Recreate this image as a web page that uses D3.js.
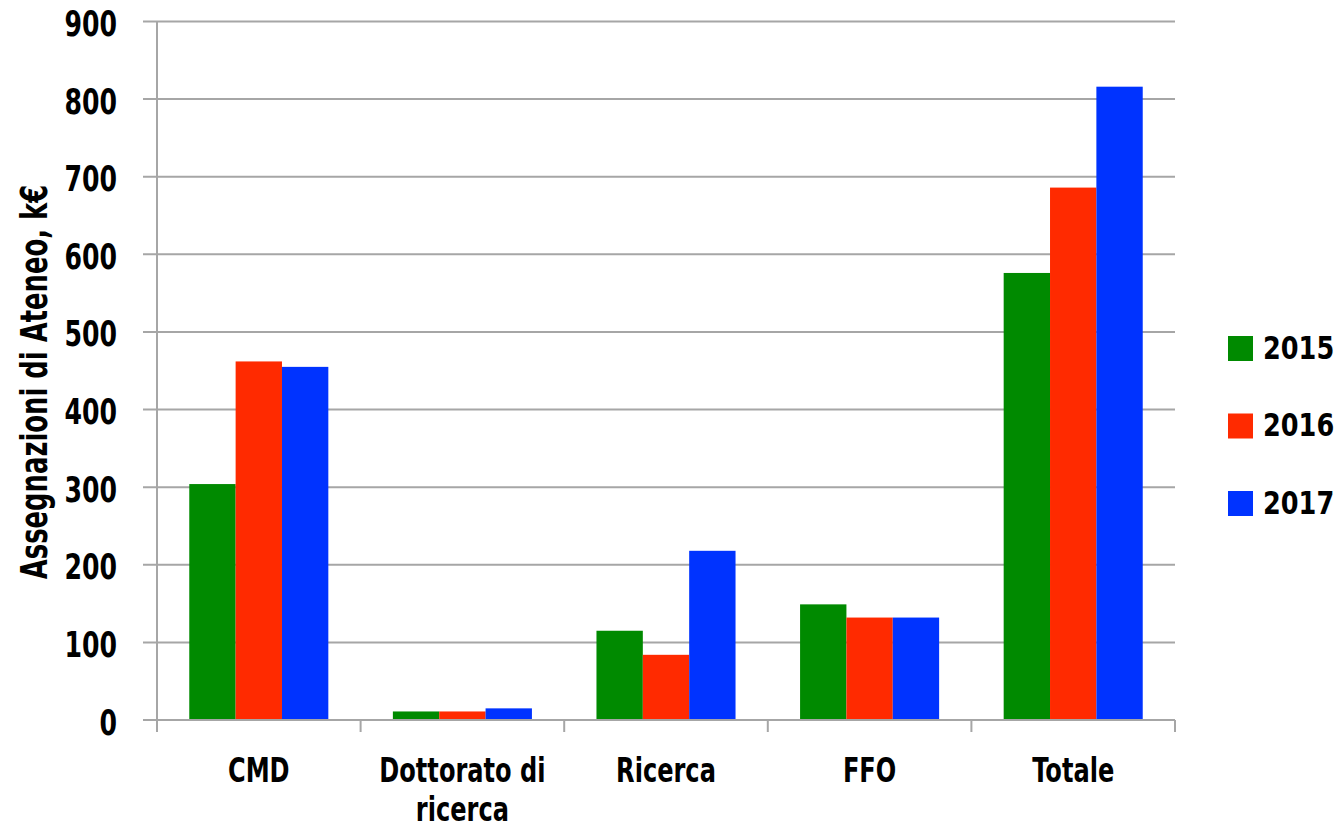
<!DOCTYPE html>
<html>
<head>
<meta charset="utf-8">
<script src="https://cdn.jsdelivr.net/npm/d3@7"></script>
<style>
  body { margin: 0; background: #fff; }
  text { font-family: "DejaVu Sans", sans-serif; font-weight: bold; fill: #000; }
</style>
</head>
<body>
<div id="viz"></div>
<script>
// data
let categories = ["CMD", "Dottorato di ricerca", "Ricerca", "FFO", "Totale"]
let catLines = [["CMD"], ["Dottorato di", "ricerca"], ["Ricerca"], ["FFO"], ["Totale"]]
let years = ["2015", "2016", "2017"]
let values2015 = [304, 11, 115, 149, 576]
let values2016 = [462, 11, 84, 132, 686]
let values2017 = [455, 15, 218, 132, 816]
let yTicks = [0, 100, 200, 300, 400, 500, 600, 700, 800, 900]
let colors = ["#008a00", "#ff2a00", "#0033ff"]

let series = [values2015, values2016, values2017]

let width = 1341
let height = 830
let plotLeft = 157, plotRight = 1175, plotTop = 21.5, plotBottom = 720

let svg = d3.select('#viz').append('svg').attr("width", width).attr("height", height)

let y = d3.scaleLinear().domain([0, 900]).range([plotBottom, plotTop])
let x0 = d3.scaleBand().domain(categories).range([plotLeft, plotRight]).paddingInner(0.317).paddingOuter(0.1585)
let x1 = d3.scaleBand().domain(years).range([0, x0.bandwidth()])

//gridlines + y labels
svg.append("g").selectAll("line").data(yTicks).join("line")
  .attr("x1", 143).attr("x2", plotRight)
  .attr("y1", d => y(d)).attr("y2", d => y(d))
  .attr("stroke", "#a6a6a6").attr("stroke-width", 2)

svg.append("g").selectAll("text").data(yTicks).join("text")
  .text(d => d)
  .attr("transform", d => `translate(117,${y(d) + 14.5}) scale(0.7,1)`)
  .attr("text-anchor", "end")
  .attr("font-size", 36)

//y axis line
svg.append("line").attr("x1", plotLeft).attr("x2", plotLeft).attr("y1", plotTop).attr("y2", plotBottom + 12)
  .attr("stroke", "#a6a6a6").attr("stroke-width", 2)

//bars
let groups = svg.append("g").selectAll("g").data(categories).join("g")
  .attr("transform", d => `translate(${x0(d)},0)`)

groups.selectAll("rect").data((d, i) => years.map((yr, k) => ({yr: yr, v: series[k][i], k: k})))
  .join("rect")
  .attr("x", d => x1(d.yr)).attr("width", x1.bandwidth())
  .attr("y", d => y(d.v)).attr("height", d => plotBottom - y(d.v))
  .attr("fill", d => colors[d.k])

//x axis
svg.append("line").attr("x1", plotLeft).attr("x2", plotRight).attr("y1", plotBottom).attr("y2", plotBottom)
  .attr("stroke", "#a6a6a6").attr("stroke-width", 2)

let step = x0.step()
let bounds = d3.range(categories.length + 1).map(i => plotLeft + i * step)
svg.append("g").selectAll("line").data(bounds).join("line")
  .attr("x1", d => d).attr("x2", d => d).attr("y1", plotBottom).attr("y2", plotBottom + 12)
  .attr("stroke", "#a6a6a6").attr("stroke-width", 2)

catLines.forEach((lines, i) => {
  let cx = x0(categories[i]) + x0.bandwidth() / 2
  lines.forEach((ln, j) => {
    svg.append("text").text(ln)
      .attr("transform", `translate(${cx},${782 + j * 39}) scale(0.73,1)`)
      .attr("text-anchor", "middle").attr("font-size", 33)
  })
})

//y title
svg.append("text").text("Assegnazioni di Ateneo, k€")
  .attr("transform", `translate(47,382) rotate(-90) scale(0.68,1)`)
  .attr("text-anchor", "middle")
  .attr("font-size", 38)

//legend
let legend = svg.append("g").selectAll("g").data(years).join("g")
  .attr("transform", (d, i) => `translate(1228,${336 + i * 77.5})`)
legend.append("rect").attr("width", 25).attr("height", 25).attr("fill", (d, i) => colors[i])
legend.append("text").text(d => d)
  .attr("transform", "translate(35,22.5) scale(0.8,1)")
  .attr("font-size", 32)
</script>
</body>
</html>
